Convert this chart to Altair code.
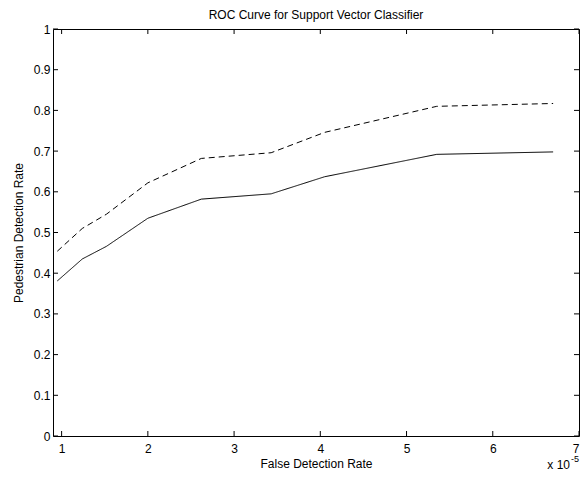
import altair as alt
import pandas as pd

# Data
fdr = [0.95, 1.24, 1.52, 2.0, 2.62, 3.43, 4.05, 5.35, 6.70]  # x 1e-5
solid_rate = [0.381, 0.435, 0.466, 0.535, 0.582, 0.595, 0.637, 0.692, 0.698]
dashed_rate = [0.454, 0.510, 0.545, 0.622, 0.682, 0.696, 0.746, 0.810, 0.817]
x_ticks = [1, 2, 3, 4, 5, 6, 7]
y_ticks = [0, 0.1, 0.2, 0.3, 0.4, 0.5, 0.6, 0.7, 0.8, 0.9, 1]
title_text = ["ROC Curve for Support Vector Classifier"]

W, H = 526, 407
FONT = "Liberation Sans"

rows = []
for x, s, d in zip(fdr, solid_rate, dashed_rate):
    rows.append({"x": x, "y": s, "series": "solid"})
    rows.append({"x": x, "y": d, "series": "dashed"})
df = pd.DataFrame(rows)
xt = pd.DataFrame({"x": x_ticks})
yt = pd.DataFrame({"y": y_ticks})

xscale = alt.Scale(domain=[0.9, 7], nice=False, zero=False)
yscale = alt.Scale(domain=[0, 1], nice=False, zero=False)

lines = alt.Chart(df).mark_line(color="black", strokeWidth=1).encode(
    x=alt.X("x:Q", scale=xscale,
            axis=alt.Axis(values=x_ticks, title="False Detection Rate", format="~g",
                          tickSize=0, labelPadding=7, titlePadding=4, grid=False, domain=False)),
    y=alt.Y("y:Q", scale=yscale,
            axis=alt.Axis(values=y_ticks, title="Pedestrian Detection Rate", format="~g",
                          tickSize=0, labelPadding=3, titlePadding=8, grid=False, domain=False)),
    strokeDash=alt.StrokeDash("series:N",
                              scale=alt.Scale(domain=["solid", "dashed"], range=[[1, 0], [6, 4]]),
                              legend=None),
    detail="series:N",
)

tick_style = dict(color="black", strokeWidth=1)
left_ticks = alt.Chart(yt).mark_rule(**tick_style).encode(
    y=alt.Y("y:Q", scale=yscale), x=alt.value(0), x2=alt.value(5))
right_ticks = alt.Chart(yt).mark_rule(**tick_style).encode(
    y=alt.Y("y:Q", scale=yscale), x=alt.value(W - 5), x2=alt.value(W))
bottom_ticks = alt.Chart(xt).mark_rule(**tick_style).encode(
    x=alt.X("x:Q", scale=xscale), y=alt.value(H - 5), y2=alt.value(H))
top_ticks = alt.Chart(xt).mark_rule(**tick_style).encode(
    x=alt.X("x:Q", scale=xscale), y=alt.value(0), y2=alt.value(5))

title_mark = alt.Chart(pd.DataFrame({"t": title_text})).mark_text(
    font=FONT, fontSize=12, align="center", baseline="alphabetic", color="black"
).encode(text="t:N", x=alt.value(W / 2), y=alt.value(-10))

exp_base = alt.Chart(pd.DataFrame({"t": ["x 10"]})).mark_text(
    font=FONT, fontSize=12, align="right", baseline="alphabetic", color="black"
).encode(text="t:N", x=alt.value(W - 9), y=alt.value(H + 33))
exp_sup = alt.Chart(pd.DataFrame({"t": ["-5"]})).mark_text(
    font=FONT, fontSize=9, align="left", baseline="alphabetic", color="black"
).encode(text="t:N", x=alt.value(W - 8), y=alt.value(H + 26))

chart = alt.layer(lines, left_ticks, right_ticks, bottom_ticks, top_ticks,
                  title_mark, exp_base, exp_sup).properties(
    width=W, height=H,
    autosize=alt.AutoSizeParams(type="none"),
    padding={"left": 45, "top": 21, "right": 1, "bottom": 38},
).configure_view(stroke="black", strokeWidth=1).configure_axis(
    labelFont=FONT, labelFontSize=12, labelColor="black",
    titleFont=FONT, titleFontSize=12, titleFontWeight="normal", titleColor="black",
)

chart.save("out.html", embed_options={"renderer": "svg", "actions": False})
